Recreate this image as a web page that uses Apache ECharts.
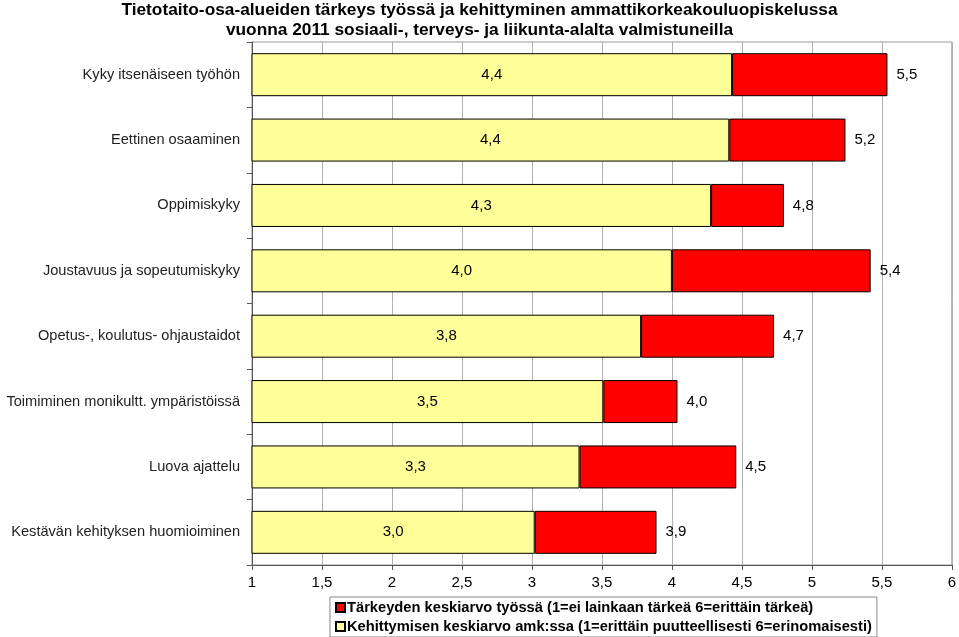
<!DOCTYPE html>
<html>
<head>
<meta charset="utf-8">
<script src="https://cdn.jsdelivr.net/npm/echarts@6/dist/echarts.min.js"></script>
<style>
  html, body { margin: 0; padding: 0; background: #fff; }
  #chart { width: 959px; height: 637px; }
</style>
</head>
<body>
<div id="chart"></div>
<script>
// kategoriat (ylhäältä alas)
const categories = [
  'Kyky itsenäiseen työhön',
  'Eettinen osaaminen',
  'Oppimiskyky',
  'Joustavuus ja sopeutumiskyky',
  'Opetus-, koulutus- ohjaustaidot',
  'Toimiminen monikultt. ympäristöissä',
  'Luova ajattelu',
  'Kestävän kehityksen huomioiminen'
]
// kehittymisen keskiarvo amk:ssa
const kehittyminen = [4.43, 4.41, 4.28, 4.00, 3.78, 3.51, 3.34, 3.02]
// tärkeyden keskiarvo työssä
const tarkeys = [5.54, 5.24, 4.80, 5.42, 4.73, 4.04, 4.46, 3.89]

const nimiTarkeys = 'Tärkeyden keskiarvo työssä (1=ei lainkaan tärkeä 6=erittäin tärkeä)'
const nimiKehitys = 'Kehittymisen keskiarvo amk:ssa (1=erittäin puutteellisesti 6=erinomaisesti)'

const fmt = (v) => v.toFixed(1).replace('.', ',')
const font = 'Liberation Sans, Arial, sans-serif'

const chart = echarts.init(document.getElementById('chart'))
chart.setOption({
  animation: false,
  textStyle: { fontFamily: font },
  title: {
    text: 'Tietotaito-osa-alueiden tärkeys työssä ja kehittyminen ammattikorkeakouluopiskelussa\nvuonna 2011 sosiaali-, terveys- ja liikunta-alalta valmistuneilla',
    left: 'center',
    top: 0,
    padding: 0,
    textStyle: { fontSize: 17.3, fontWeight: 'bold', color: '#000', lineHeight: 20, fontFamily: font }
  },
  legend: {
    orient: 'vertical',
    left: 330,
    top: 597,
    data: [nimiTarkeys, nimiKehitys],
    icon: 'rect',
    itemWidth: 9,
    itemHeight: 9,
    itemGap: 4,
    padding: [3, 5],
    borderColor: '#888',
    borderWidth: 1,
    textStyle: { fontSize: 14.7, fontWeight: 'bold', color: '#000', fontFamily: font, padding: [0, 0, 0, -3] }
  },
  grid: {
    left: 252,
    right: 4,
    top: 42,
    bottom: 72,
    show: true,
    borderColor: '#999',
    borderWidth: 1
  },
  xAxis: {
    type: 'value',
    min: 1,
    max: 6,
    interval: 0.5,
    axisLine: { show: true, lineStyle: { color: '#555' } },
    axisTick: { show: true, length: 5, lineStyle: { color: '#555' } },
    splitLine: { show: true, lineStyle: { color: '#b0b0b0' } },
    axisLabel: {
      fontSize: 15, color: '#000', margin: 10, fontFamily: font,
      formatter: (v) => String(v).replace('.', ',')
    }
  },
  yAxis: {
    type: 'category',
    inverse: true,
    data: categories,
    axisLine: { show: true, lineStyle: { color: '#555' } },
    axisTick: { show: true, length: 5, lineStyle: { color: '#555' } },
    axisLabel: { fontSize: 14.6, color: '#222', margin: 12, fontFamily: font }
  },
  series: [
    {
      name: nimiKehitys,
      type: 'bar',
      stack: 'a',
      barWidth: 43,
      data: kehittyminen,
      itemStyle: { color: '#FFFF99', borderColor: '#000', borderWidth: 1 },
      label: {
        show: true, position: 'inside', fontSize: 15, color: '#000', fontFamily: font,
        formatter: (p) => fmt(kehittyminen[p.dataIndex])
      }
    },
    {
      name: nimiTarkeys,
      type: 'bar',
      stack: 'a',
      barWidth: 43,
      data: tarkeys.map((v, i) => +(v - kehittyminen[i]).toFixed(2)),
      itemStyle: { color: '#FF0000', borderColor: '#000', borderWidth: 1 },
      label: {
        show: true, position: 'right', distance: 9, fontSize: 15, color: '#000', fontFamily: font,
        formatter: (p) => fmt(tarkeys[p.dataIndex])
      }
    }
  ]
})
</script>
</body>
</html>
